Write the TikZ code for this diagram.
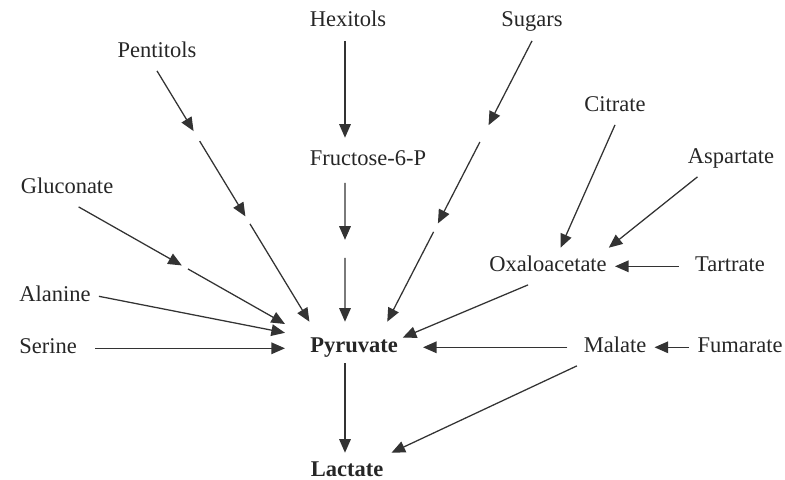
\documentclass[tikz,border=0pt]{standalone}
\usepackage{fontspec}
\setmainfont{Liberation Serif}
\usetikzlibrary{arrows.meta,calc}

\tikzset{
  met/.style={font=\fontsize{16}{19}\selectfont, text=black!85, anchor=base,
              inner sep=0.2cm, text height=0.375cm, text depth=0.14cm},
  key/.style={met, font=\fontsize{16}{19}\selectfont\bfseries},
  flow/.style={->, line width=0.9pt, draw=black!80},
}

\begin{document}
\begin{tikzpicture}[x=0.025cm,y=-0.025cm,>={Triangle[length=3.4mm,width=2.9mm]}]
  \useasboundingbox (0,0) rectangle (785,480);
  % substrates
  \node[met] (hex) at (348,27) {Hexitols};
  \node[met] (sug) at (532,27) {Sugars};
  \node[met] (pen) at (157,57) {Pentitols};
  \node[met] (cit) at (615,111) {Citrate};
  \node[met] (asp) at (731,163) {Aspartate};
  \node[met, inner ysep=0.3cm] (fru) at (368,165) {Fructose-6-P};
  \node[met] (glu) at (67,193) {Gluconate};
  \node[met] (oxa) at (548,271) {Oxaloacetate};
  \node[met] (tar) at (730,271) {Tartrate};
  \node[met] (ala) at (55,301) {Alanine};
  \node[met] (ser) at (48,353) {Serine};
  \node[met] (mal) at (615,352) {Malate};
  \node[met] (fum) at (740,352) {Fumarate};
  % products
  \node[key, text height=0.625cm, text depth=0.15cm, inner xsep=0.625cm,
        inner ysep=0.125cm] (pyr) at (354,352) {Pyruvate};
  \node[key] (lac) at (347,476) {Lactate};
  \coordinate (col) at (345,0);
  \coordinate (f0) at (fru.south -| col);
  \coordinate (p0) at (pyr.north -| col);

  % central column
  \draw[flow] (hex.south -| col) -- (fru.north -| col);
  \foreach \s/\e in {0/.41,.54/1}
    \draw[flow] ($(f0)!\s!(p0)$) -- ($(f0)!\e!(p0)$);
  \draw[flow] (pyr.south -| col) -- (lac.north -| col);

  % broken arrows into pyruvate
  \foreach \s/\e in {0/.24,.28/.58,.61/1}
    \draw[flow] ($(pen.south)!\s!(pyr.155)$) -- ($(pen.south)!\e!(pyr.155)$);
  \foreach \s/\e in {0/.30,.36/.65,.68/1}
    \draw[flow] ($(sug.south)!\s!(pyr.32)$) -- ($(sug.south)!\e!(pyr.32)$);
  \foreach \s/\e in {0/.5,.53/1}
    \draw[flow] ($(glu.-58)!\s!(pyr.165)$) -- ($(glu.-58)!\e!(pyr.165)$);

  \draw[flow] (ala.east) -- (pyr.172);
  \draw[flow, shorten <=0.25cm] (ser.east) -- (ser.east -| pyr.west);
  \draw[flow, shorten >=-0.55cm] (oxa.223) -- (pyr.11);
  \draw[flow, shorten <=0.2cm] (mal.west) -- (mal.west -| pyr.east);
  \draw[flow] (mal.206) -- (lac.north east);

  % C4 acids
  \draw[flow] (fum.west) -- (mal.east);
  \draw[flow, shorten <=0.2cm] (tar.west) -- (oxa.east);
  \draw[flow] (cit.south) -- (oxa.56);
  \draw[flow] (asp.209) -- (oxa.17);
\end{tikzpicture}
\end{document}
